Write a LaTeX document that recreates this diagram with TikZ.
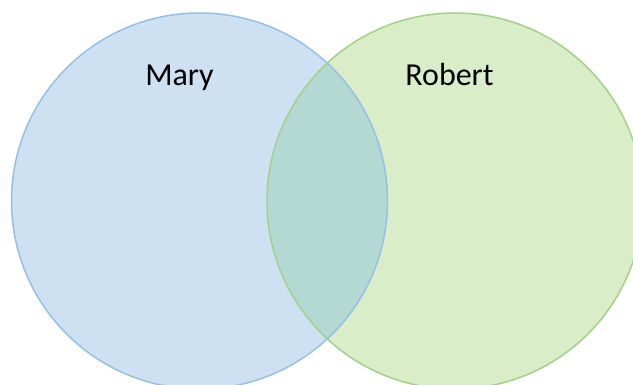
\documentclass[tikz,border=0pt]{standalone}
\usepackage{fontspec}
\setmainfont{Carlito}
\usepackage{tikz}
\usetikzlibrary{calc}

\definecolor{maryfill}{RGB}{205,225,242}
\definecolor{maryline}{RGB}{150,192,230}
\definecolor{robfill}{RGB}{217,237,200}
\definecolor{robline}{RGB}{165,208,138}
\definecolor{bothfill}{RGB}{180,216,210}

\begin{document}
\begin{tikzpicture}[x=1pt,y=1pt]
          %\draw[help lines] (0,0) grid (633,385);
          \useasboundingbox (0,0) rectangle (633,385);
          \clip (0,0) rectangle (633,385);
          \fill[white] (0,0) rectangle (633,385);
          \coordinate (M) at (199.5,184);
          \coordinate (R) at (455,184);
          \fill[maryfill] (M) circle (188);
          \fill[robfill] (R) circle (188);
          % overlap
          \begin{scope}
            \clip (M) circle (188);
            \fill[bothfill] (R) circle (188);
          \end{scope}
          \draw[maryline,line width=1.5pt] (M) circle (188);
          \draw[robline,line width=1.5pt] (R) circle (188);
          \node[font=\fontsize{32}{36}\selectfont,anchor=base] (mary) at (179.5,299) {Mary};
          \node[font=\fontsize{32}{36}\selectfont,anchor=base] (robert) at (449.5,299) {Robert};
\end{tikzpicture}
\end{document}
